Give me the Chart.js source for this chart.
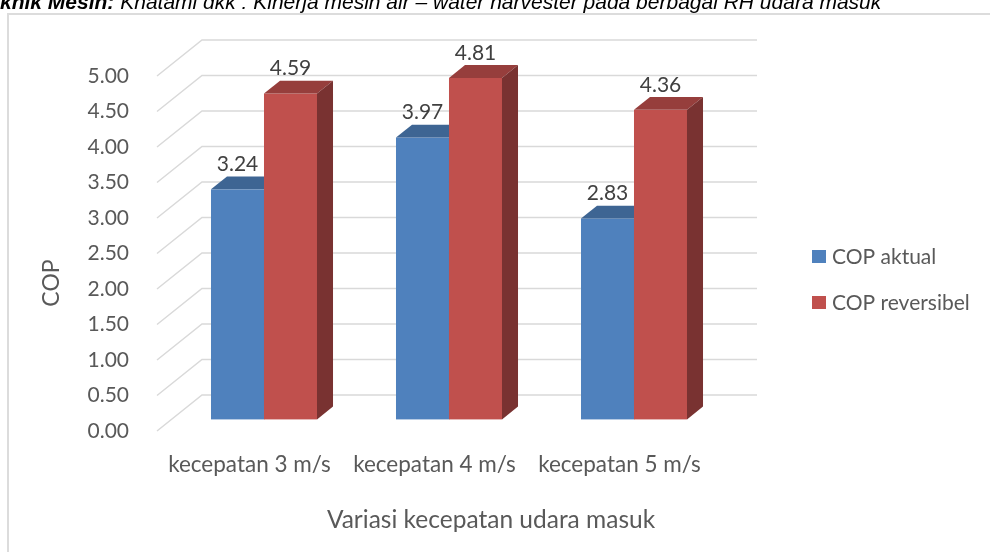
<!DOCTYPE html>
<html><head><meta charset="utf-8">
<script src="https://cdn.jsdelivr.net/npm/chart.js@4"></script>
<style>
html,body{margin:0;padding:0;background:#fff;}
#wrap{position:relative;width:990px;height:552px;overflow:hidden;background:#fff;}
#frame{position:absolute;left:7px;top:13px;width:1100px;height:700px;border:2px solid #dcdcdc;box-sizing:border-box;}
#cap{position:absolute;left:0;top:-8px;font:italic 21px "Liberation Sans",Arial,sans-serif;line-height:20px;white-space:nowrap;color:#000;}
canvas{position:absolute;left:0;top:0;}
</style></head><body>
<div id="wrap">
<div id="frame"></div>
<canvas id="c" width="990" height="552"></canvas>
<div id="cap"><b>knik Mesin:</b> Khatami dkk : Kinerja mesin air – water harvester pada berbagai RH udara masuk</div>
</div>
<script>
// ---- data ----
const categories = ['kecepatan 3 m/s', 'kecepatan 4 m/s', 'kecepatan 5 m/s'];
const copAktual = [3.24, 3.97, 2.83];
const copReversibel = [4.59, 4.81, 4.36];
const seriesNames = ['COP aktual', 'COP reversibel'];
const seriesColors = ['#4F81BD', '#C0504D'];
const yMin = 0, yMax = 5, yStep = 0.5;
const yTitle = 'COP';
const xTitle = 'Variasi kecepatan udara masuk';

// ---- style ----
const FONT = 'Lato';
const TXT = '#595959';
const DX = 45, DY = -36;          // depth of the 3D box
const BAR_OFF = 0.322, BAR_DEP = 0.356;

function shade(hex, f) {
  const n = parseInt(hex.slice(1), 16);
  const r = Math.round(((n >> 16) & 255) * f), g = Math.round(((n >> 8) & 255) * f), b = Math.round((n & 255) * f);
  return `rgb(${r},${g},${b})`;
}

const plugin3d = {
  id: 'bars3d',
  beforeDatasetsDraw(chart) {
    const { ctx, chartArea: ca, scales: { y } } = chart;
    ctx.save();
    ctx.strokeStyle = '#d9d9d9';
    ctx.lineWidth = 1.5;
    y.ticks.forEach(t => {
      const py = y.getPixelForValue(t.value);
      ctx.beginPath();
      ctx.moveTo(ca.left, py);
      ctx.lineTo(ca.left + DX, py + DY);
      ctx.lineTo(ca.right + DX, py + DY);
      ctx.stroke();
    });
    const ox = DX * BAR_OFF, oy = DY * BAR_OFF, bx = DX * BAR_DEP, by = DY * BAR_DEP;
    const labels = [];
    for (let i = 0; i < chart.data.labels.length; i++) {
      chart.data.datasets.forEach((ds, j) => {
        const el = chart.getDatasetMeta(j).data[i];
        const p = el.getProps(['x', 'y', 'base', 'width'], true);
        const col = ds.backgroundColor;
        const l = p.x - p.width / 2 + ox, r = p.x + p.width / 2 + ox, t = p.y + oy, b = p.base + oy;
        ctx.fillStyle = col;
        ctx.fillRect(l, t, r - l, b - t);
        ctx.fillStyle = shade(col, 0.78);
        ctx.beginPath();
        ctx.moveTo(l, t); ctx.lineTo(l + bx, t + by); ctx.lineTo(r + bx, t + by); ctx.lineTo(r, t); ctx.closePath();
        ctx.fill();
        ctx.fillStyle = shade(col, 0.63);
        ctx.beginPath();
        ctx.moveTo(r, t); ctx.lineTo(r + bx, t + by); ctx.lineTo(r + bx, b + by); ctx.lineTo(r, b); ctx.closePath();
        ctx.fill();
        labels.push({ x: (l + r) / 2, y: t + by - 12, text: ds.data[i].toFixed(2) });
      });
    }
    ctx.fillStyle = '#404040';
    ctx.font = `21px ${FONT}`;
    ctx.textAlign = 'center';
    ctx.textBaseline = 'middle';
    labels.forEach(lb => ctx.fillText(lb.text, lb.x, lb.y));
    ctx.restore();
    return false;
  },
  afterDraw(chart) {
    const { ctx } = chart;
    ctx.save();
    ctx.fillStyle = TXT;
    ctx.textBaseline = 'middle';
    // axis titles
    ctx.font = `24.5px ${FONT}`;
    ctx.textAlign = 'center';
    ctx.fillText(xTitle, 491, 520);
    ctx.font = `23px ${FONT}`;
    ctx.save();
    ctx.translate(52, 283);
    ctx.rotate(-Math.PI / 2);
    ctx.fillText(yTitle, 0, 0);
    ctx.restore();
    // legend
    ctx.font = `21px ${FONT}`;
    ctx.textAlign = 'left';
    chart.data.datasets.forEach((ds, j) => {
      const yy = 250 + j * 46;
      ctx.fillStyle = ds.backgroundColor;
      ctx.fillRect(812, yy, 14, 13);
      ctx.fillStyle = TXT;
      ctx.fillText(ds.label, 832, yy + 7);
    });
    ctx.restore();
  }
};

new Chart(document.getElementById('c'), {
  type: 'bar',
  data: {
    labels: categories,
    datasets: [
      { label: seriesNames[0], data: copAktual, backgroundColor: seriesColors[0] },
      { label: seriesNames[1], data: copReversibel, backgroundColor: seriesColors[1] }
    ]
  },
  options: {
    responsive: false,
    devicePixelRatio: 1,
    animation: false,
    events: [],
    layout: { padding: { left: 30, top: 76, right: 278, bottom: 0 } },
    datasets: { bar: { categoryPercentage: 0.573, barPercentage: 1.0 } },
    plugins: { legend: { display: false }, tooltip: { enabled: false } },
    scales: {
      x: {
        grid: { display: false },
        border: { display: false },
        ticks: { color: TXT, font: { family: FONT, size: 22.5 }, padding: 12 },
        afterFit(s) { s.height = 121; }
      },
      y: {
        min: yMin, max: yMax,
        grid: { display: false },
        border: { display: false },
        ticks: { stepSize: yStep, color: TXT, font: { family: FONT, size: 21 }, padding: 20,
                 callback: v => Number(v).toFixed(2) },
        afterFit(s) { s.width = 127; }
      }
    }
  },
  plugins: [plugin3d]
});
</script>
</body></html>
